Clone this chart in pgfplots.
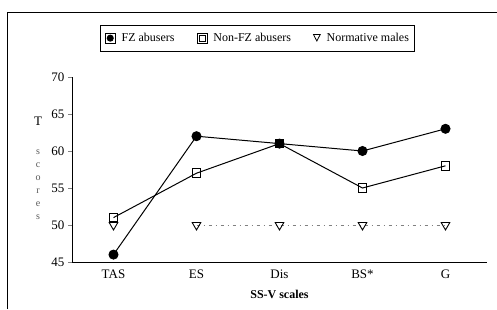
\documentclass[border=0pt]{standalone}
\usepackage{pgfplots}
\pgfplotsset{compat=1.18}
\usepackage{fontspec}
\setmainfont{Liberation Serif}
\begin{document}
\begin{tikzpicture}[x=1pt,y=1pt]
\path[use as bounding box] (0,0) rectangle (497,309);
\draw[line width=1pt] (7,0) -- (7,297) -- (497,297);
\begin{axis}[
  at={(72pt,47pt)}, anchor=south west,
  scale only axis, width=415pt, height=185pt,
  xmin=-0.5, xmax=4.5, ymin=45, ymax=70,
  axis x line=bottom, axis y line=left,
  axis line style={-, line width=1pt},
  xtick={0,1,2,3,4},
  xticklabels={TAS,ES,Dis,BS*,G},
  major x tick style={draw=none},
  extra x ticks={0.5,1.5,2.5,3.5},
  extra x tick labels={},
  extra x tick style={major tick length=5pt, tick style={draw=black, line width=0.8pt}, tick align=outside},
  ytick={45,50,55,60,65,70},
  tick align=outside, major tick length=4pt,
  ytick style={line width=0.8pt},
  /pgf/number format/assume math mode=true,
  tick label style={font=\fontsize{13}{15}\selectfont},
  xlabel={\textbf{SS-V scales}},
  xlabel style={font=\fontsize{12}{14}\selectfont, yshift=4pt},
  legend columns=3,
  legend style={at={(0.448,1.21)}, anchor=center, draw=black, line width=1pt,
    font=\fontsize{12}{14}\selectfont,
    /tikz/every odd column/.append style={column sep=4pt},
    /tikz/every even column/.append style={column sep=20pt},
    inner xsep=4pt, inner ysep=6pt},
  clip=false,
]
\addplot[black, line width=1pt, mark=*, mark size=4.5pt, mark options={solid, fill=black},
  legend image code/.code={\draw[black,line width=0.8pt,fill=white] (0.05cm,-0.17cm) rectangle (0.4cm,0.17cm); \fill[black] (0.225cm,0) circle (3pt);}]
  coordinates {(0,46) (1,62) (2,61) (3,60) (4,63)};
\addlegendentry{FZ abusers}
\addplot[black, line width=1pt, mark=square, mark size=4.3pt, mark options={solid, fill=white, line width=1pt},
  legend image code/.code={\draw[black,line width=0.8pt,fill=white] (0.05cm,-0.17cm) rectangle (0.4cm,0.17cm); \draw[black,line width=0.8pt] (0.12cm,-0.1cm) rectangle (0.33cm,0.1cm);}]
  coordinates {(0,51) (1,57) (2,61) (3,55) (4,58)};
\addlegendentry{Non-FZ abusers}
\addplot[black, only marks, mark=triangle, mark size=5pt, mark options={rotate=180, line width=0.9pt},
  legend image code/.code={\draw[black,line width=0.8pt] (0.25cm,-0.1cm) -- (0.13cm,0.13cm) -- (0.37cm,0.13cm) -- cycle;}]
  coordinates {(0,50)};
\addlegendentry{Normative males}
\addplot[gray, line width=0.7pt, dash pattern=on 3pt off 4pt on 1pt off 4pt, mark=triangle, mark size=5pt, mark options={solid, black, rotate=180, line width=0.9pt, fill=white}, forget plot]
  coordinates {(1,50) (2,50) (3,50) (4,50)};
\end{axis}
\node[font=\fontsize{13}{15}\selectfont] at (38,188) {T};
\node[font=\fontsize{10}{13}\selectfont, text=gray!70!black, align=center] at (38,124) {s\\c\\o\\r\\e\\s};
\end{tikzpicture}
\end{document}
